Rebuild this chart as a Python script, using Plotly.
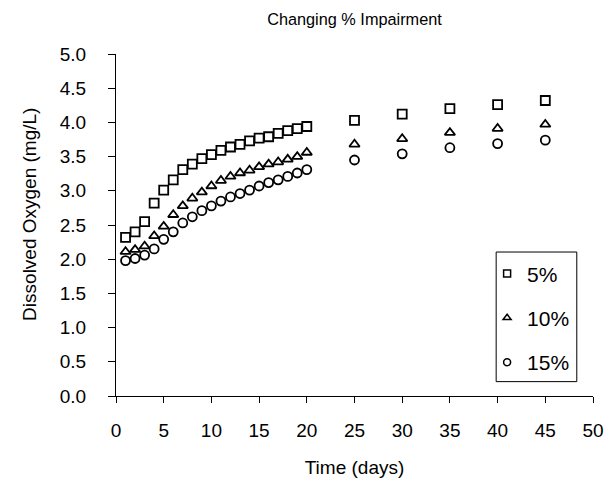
import plotly.graph_objects as go

days = list(range(1, 21)) + [25, 30, 35, 40, 45]
do_5 = [2.32, 2.40, 2.55, 2.82, 3.01, 3.16, 3.31, 3.39, 3.47, 3.53,
        3.59, 3.64, 3.68, 3.73, 3.77, 3.79, 3.84, 3.88, 3.91, 3.94,
        4.03, 4.12, 4.20, 4.26, 4.32]
do_10 = [2.11, 2.14, 2.19, 2.34, 2.48, 2.65, 2.78, 2.89, 2.98, 3.07,
         3.15, 3.21, 3.26, 3.30, 3.35, 3.39, 3.42, 3.46, 3.50, 3.56,
         3.68, 3.76, 3.85, 3.91, 3.97]
do_15 = [1.98, 2.01, 2.06, 2.15, 2.29, 2.40, 2.53, 2.62, 2.71, 2.78,
         2.85, 2.91, 2.96, 3.01, 3.07, 3.12, 3.16, 3.21, 3.26, 3.31,
         3.45, 3.54, 3.63, 3.69, 3.74]
names = ["5%", "10%", "15%"]
symbols = ["square-open", "triangle-up-open", "circle-open"]
x_ticks = list(range(0, 51, 5))
y_ticks = [i * 0.5 for i in range(11)]

FONT = "Arial, Liberation Sans, sans-serif"

fig = go.Figure()
for ys, nm, sym in zip([do_5, do_10, do_15], names, symbols):
    fig.add_trace(go.Scatter(
        x=days, y=ys, mode="markers", name=nm, showlegend=False,
        marker=dict(symbol=sym, size=9, color="black",
                    line=dict(color="black", width=1.8)),
    ))
# legend-only entries (smaller symbols, as in the reference legend)
for nm, sym in zip(names, symbols):
    fig.add_trace(go.Scatter(
        x=[None], y=[None], mode="markers", name=nm, legendgroup=nm,
        marker=dict(symbol=sym, size=7, color="black",
                    line=dict(color="black", width=1.5)),
    ))

fig.update_layout(
    width=607, height=493,
    margin=dict(l=116, r=14, t=54, b=97, autoexpand=False),
    paper_bgcolor="white", plot_bgcolor="white",
    font=dict(family=FONT, color="black", size=19),
    title=dict(text="Changing % Impairment", x=0.584, xanchor="center",
               y=0.96, yanchor="middle", font=dict(size=16.3)),
    showlegend=True,
    legend=dict(x=0.778, y=0.417, xanchor="left", yanchor="top",
                borderwidth=0, bgcolor="rgba(0,0,0,0)",
                font=dict(size=21), tracegroupgap=14,
                itemwidth=30),
    shapes=[dict(type="rect", xref="paper", yref="paper",
                 x0=0.797, x1=0.966, y0=0.042, y1=0.421,
                 line=dict(color="black", width=1), fillcolor="white",
                 layer="below")],
    annotations=[dict(text="Dissolved Oxygen (mg/L)", textangle=-90,
                      xref="paper", yref="paper", x=-0.18, y=0.53,
                      xanchor="center", yanchor="middle", showarrow=False,
                      font=dict(size=19))],
)
fig.update_xaxes(
    range=[0, 50], tickvals=x_ticks, ticktext=[str(v) for v in x_ticks],
    showgrid=False, zeroline=False, showline=True, linecolor="black",
    linewidth=1, ticks="outside", ticklen=6, tickcolor="black",
    ticklabelstandoff=11, automargin=False,
    title=dict(text="Time (days)", standoff=20, font=dict(size=19)),
)
fig.update_yaxes(
    range=[0, 5], tickvals=y_ticks, ticktext=[f"{v:.1f}" for v in y_ticks],
    showgrid=False, zeroline=False, showline=True, linecolor="black",
    linewidth=1, ticks="outside", ticklen=7, tickcolor="black",
    ticklabelstandoff=18, automargin=False,
)

fig.write_html("out.html")
